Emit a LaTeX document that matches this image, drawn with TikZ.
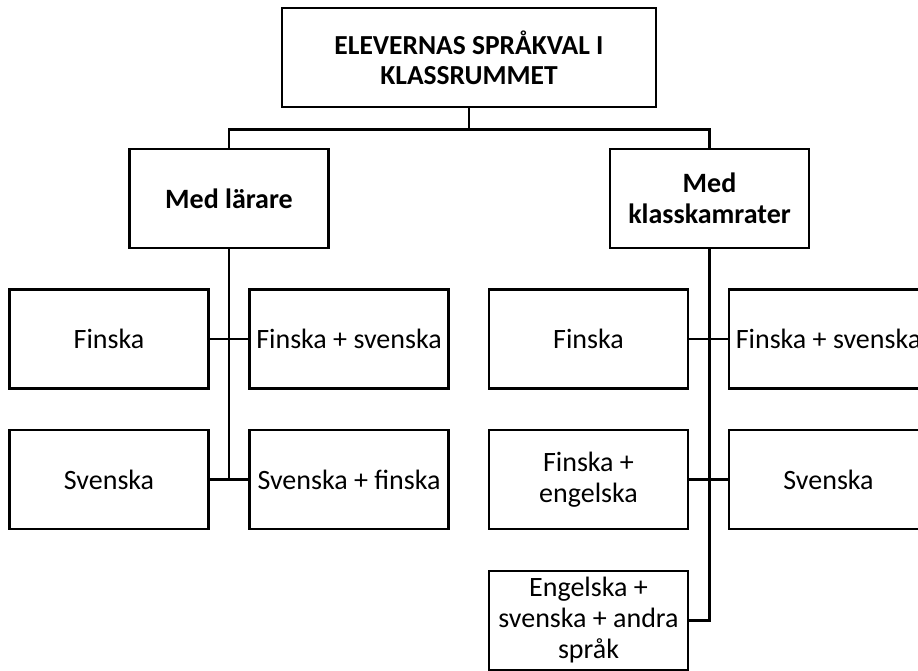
\documentclass[tikz,border=0pt]{standalone}
\usepackage{fontspec}
\setmainfont{Carlito}
\begin{document}
\begin{tikzpicture}[x=1pt,y=-1pt,
  box/.style={draw, line width=2.8pt, minimum width=#1, minimum height=99pt, inner sep=0pt, align=center,
    font=\fontsize{28}{31}\selectfont},
  box/.default=199pt,
  conn/.style={line width=2.8pt}]
\useasboundingbox (0,0) rectangle (918,671);
\clip (0,0) rectangle (918,671);
\node[box=374pt, font=\fontsize{27.5}{30}\selectfont\bfseries] (top) at (469,57.5) {ELEVERNAS SPRÅKVAL I\\KLASSRUMMET};
\node[box, font=\fontsize{28}{31}\selectfont\bfseries] (ml) at (229,198.5) {Med lärare};
\node[box, font=\fontsize{28}{31}\selectfont\bfseries] (mk) at (709.5,198.5) {Med\\klasskamrater};
\node[box] (a1) at (109,339) {Finska};
\node[box] (b1) at (349,339) {Finska + svenska};
\node[box] (a2) at (109,479.5) {Svenska};
\node[box] (b2) at (349,479.5) {Svenska + finska};
\node[box] (c1) at (588.5,339) {Finska};
\node[box] (d1) at (828.5,339) {Finska + svenska};
\node[box] (c2) at (588.5,479.5) {Finska +\\engelska};
\node[box] (d2) at (828.5,479.5) {Svenska};
\node[box] (c3) at (588.5,620.5) {Engelska +\\svenska + andra\\språk};
\draw[conn] (top.south) -- ++(0,21) -| (ml.north);
\draw[conn] (top.south) ++(0,21) -| (mk.north);
\draw[conn] (ml.south) -- (ml.south |- a2.east);
\draw[conn] (a1.east) -- (b1.west);
\draw[conn] (a2.east) -- (b2.west);
\draw[conn] (mk.south) -- (mk.south |- c3.east) -- (c3.east);
\draw[conn] (c1.east) -- (d1.west);
\draw[conn] (c2.east) -- (d2.west);
\end{tikzpicture}
\end{document}
